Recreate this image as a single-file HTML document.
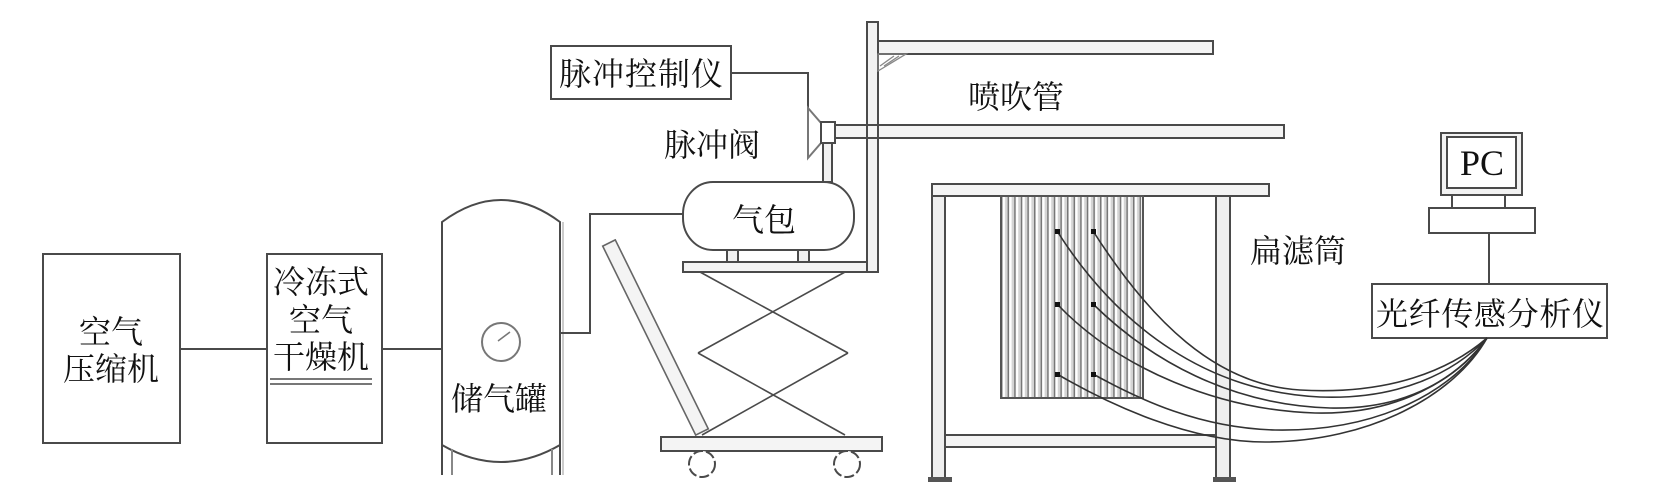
<!DOCTYPE html>
<html><head><meta charset="utf-8"><style>
html,body{margin:0;padding:0;background:#fff;}
svg{display:block;}
.t{font-family:"Liberation Serif","Noto Serif CJK SC","Noto Sans CJK SC",serif;font-size:32px;fill:#111;}
</style></head><body>
<svg width="1654" height="497" viewBox="0 0 1654 497" xmlns="http://www.w3.org/2000/svg">
<defs>
<pattern id="st" x="1001" y="0" width="6.6" height="10" patternUnits="userSpaceOnUse">
<rect x="0" y="0" width="6.6" height="10" fill="#d4d4d4"/>
<rect x="0" y="0" width="1.6" height="10" fill="#777777"/>
<rect x="1.6" y="0" width="2.4" height="10" fill="#ffffff"/>
</pattern>
</defs>
<g fill="none" stroke="#4a4a4a" stroke-width="2">
<!-- compressor -->
<rect x="43" y="254" width="137" height="189" fill="#fff"/>
<line x1="180" y1="349" x2="267" y2="349"/>
<!-- dryer -->
<rect x="267" y="254" width="115" height="189" fill="#fff"/>
<line x1="270" y1="379" x2="372" y2="379" stroke-width="1.6"/>
<line x1="270" y1="384" x2="372" y2="384" stroke-width="1.6"/>
<line x1="382" y1="349" x2="442" y2="349"/>
<!-- tank -->
<path d="M442,475 L442,222 Q501,178 560,222 L560,475" fill="#fff"/>
<path d="M442,445 Q501,479 560,445"/>
<line x1="452" y1="449" x2="452" y2="475" stroke="#888"/>
<line x1="552" y1="449" x2="552" y2="475" stroke="#888"/>
<line x1="563" y1="222" x2="563" y2="475" stroke="#bbb" stroke-width="1.5"/>
<circle cx="501" cy="342" r="19" stroke="#777"/>
<line x1="498" y1="341" x2="510" y2="332" stroke="#777" stroke-width="1.5"/>
<polyline points="560,333 590,333 590,214 683,214"/>
<!-- air bag -->
<rect x="683" y="182" width="171" height="68" rx="30" ry="32" fill="#fff"/>
<rect x="727" y="250" width="11" height="12" fill="#f0f0f0"/>
<rect x="798" y="250" width="11" height="12" fill="#f0f0f0"/>
<rect x="683" y="262" width="195" height="10" fill="#f4f4f4"/>
<!-- pole -->
<rect x="867" y="22" width="11" height="250" fill="#f2f2f2"/>
<rect x="878" y="41" width="335" height="13" fill="#f4f4f4"/>
<polygon points="878,54 906,54 878,71" stroke="#888" stroke-width="1.3"/>
<line x1="880" y1="66" x2="894" y2="56" stroke="#888" stroke-width="1.3"/>
<line x1="884" y1="66" x2="899" y2="56" stroke="#888" stroke-width="1.3"/>
<rect x="835" y="125" width="449" height="13" fill="#f4f4f4"/>
<line x1="867" y1="120" x2="867" y2="142"/>
<line x1="878" y1="120" x2="878" y2="142"/>
<!-- valve -->
<polyline points="731,73 808,73 808,108"/>
<polygon points="808,108 821,123 821,143 808,158" fill="#fff" stroke="#777"/>
<rect x="821" y="122" width="14" height="21" fill="#fff"/>
<rect x="823" y="143" width="9" height="39" fill="#f2f2f2"/>
<!-- control box -->
<rect x="551" y="46" width="180" height="53" fill="#fff"/>
<!-- scissor lift -->
<line x1="700" y1="272" x2="848" y2="353" stroke-width="1.6"/>
<line x1="845" y1="272" x2="698" y2="353" stroke-width="1.6"/>
<line x1="698" y1="353" x2="845" y2="435" stroke-width="1.6"/>
<line x1="848" y1="353" x2="702" y2="435" stroke-width="1.6"/>
<polygon points="615.3,239.9 602.7,246.1 695.7,435.1 708.3,428.9" fill="#f4f4f4" stroke="#666" stroke-width="1.6"/>
<rect x="661" y="437" width="221" height="14" fill="#f4f4f4"/>
<circle cx="702" cy="464" r="13" fill="#fff" stroke-dasharray="10 3"/>
<circle cx="847" cy="464" r="13" fill="#fff" stroke-dasharray="10 3"/>
<!-- table -->
<rect x="932" y="184" width="337" height="12" fill="#f4f4f4"/>
<rect x="932" y="196" width="13" height="282" fill="#eee"/>
<rect x="1216" y="196" width="14" height="282" fill="#eee"/>
<rect x="945" y="435" width="271" height="12" fill="#f4f4f4"/>
<rect x="928" y="477" width="24" height="5" fill="#555" stroke="none"/>
<rect x="1213" y="477" width="23" height="5" fill="#555" stroke="none"/>
<!-- filter -->
<rect x="1001" y="196" width="142" height="202" fill="url(#st)" stroke="#555"/>
<!-- PC -->
<rect x="1441" y="133" width="81" height="62" fill="#f2f2f2"/>
<rect x="1447" y="137" width="69" height="51" fill="#fff"/>
<line x1="1452" y1="195" x2="1452" y2="208"/>
<line x1="1505" y1="195" x2="1505" y2="208"/>
<rect x="1429" y="208" width="106" height="25" fill="#fff"/>
<line x1="1489" y1="233" x2="1489" y2="284"/>
<rect x="1372" y="284" width="235" height="54" fill="#fff"/>
</g>
<!-- sensor curves -->
<g fill="none" stroke="#333" stroke-width="1.6">
<path d="M1093,231 C1150,320 1215,385 1300,390 C1390,395 1450,370 1487,338"/>
<path d="M1057,231 C1120,330 1210,392 1320,397 C1400,400 1455,372 1487,338"/>
<path d="M1093,304 C1150,360 1230,405 1330,408 C1410,410 1460,375 1487,338"/>
<path d="M1057,304 C1120,370 1220,410 1315,413 C1400,415 1458,378 1487,338"/>
<path d="M1093,374 C1140,400 1200,428 1275,430 C1380,432 1455,390 1487,338"/>
<path d="M1057,374 C1110,405 1190,442 1265,442 C1370,442 1455,395 1487,338"/>
</g>
<g fill="#111">
<rect x="1055" y="229" width="5" height="5"/><rect x="1091" y="229" width="5" height="5"/>
<rect x="1055" y="302" width="5" height="5"/><rect x="1091" y="302" width="5" height="5"/>
<rect x="1055" y="372" width="5" height="5"/><rect x="1091" y="372" width="5" height="5"/>
</g>
<!-- labels -->
<g class="t" text-anchor="middle">
<text x="111" y="343">空气</text>
<text x="111" y="380">压缩机</text>
<text x="321" y="293">冷冻式</text>
<text x="321" y="331">空气</text>
<text x="321" y="368">干燥机</text>
<text x="499" y="410">储气罐</text>
<text x="641" y="85" textLength="164">脉冲控制仪</text>
<text x="712" y="156">脉冲阀</text>
<text x="764" y="231">气包</text>
<text x="1016" y="108">喷吹管</text>
<text x="1298" y="262">扁滤筒</text>
<text x="1490" y="325" textLength="228">光纤传感分析仪</text>
<text x="1482" y="175" style="font-family:'Liberation Serif',serif;font-size:36px;">PC</text>
</g>
</svg>
</body></html>
